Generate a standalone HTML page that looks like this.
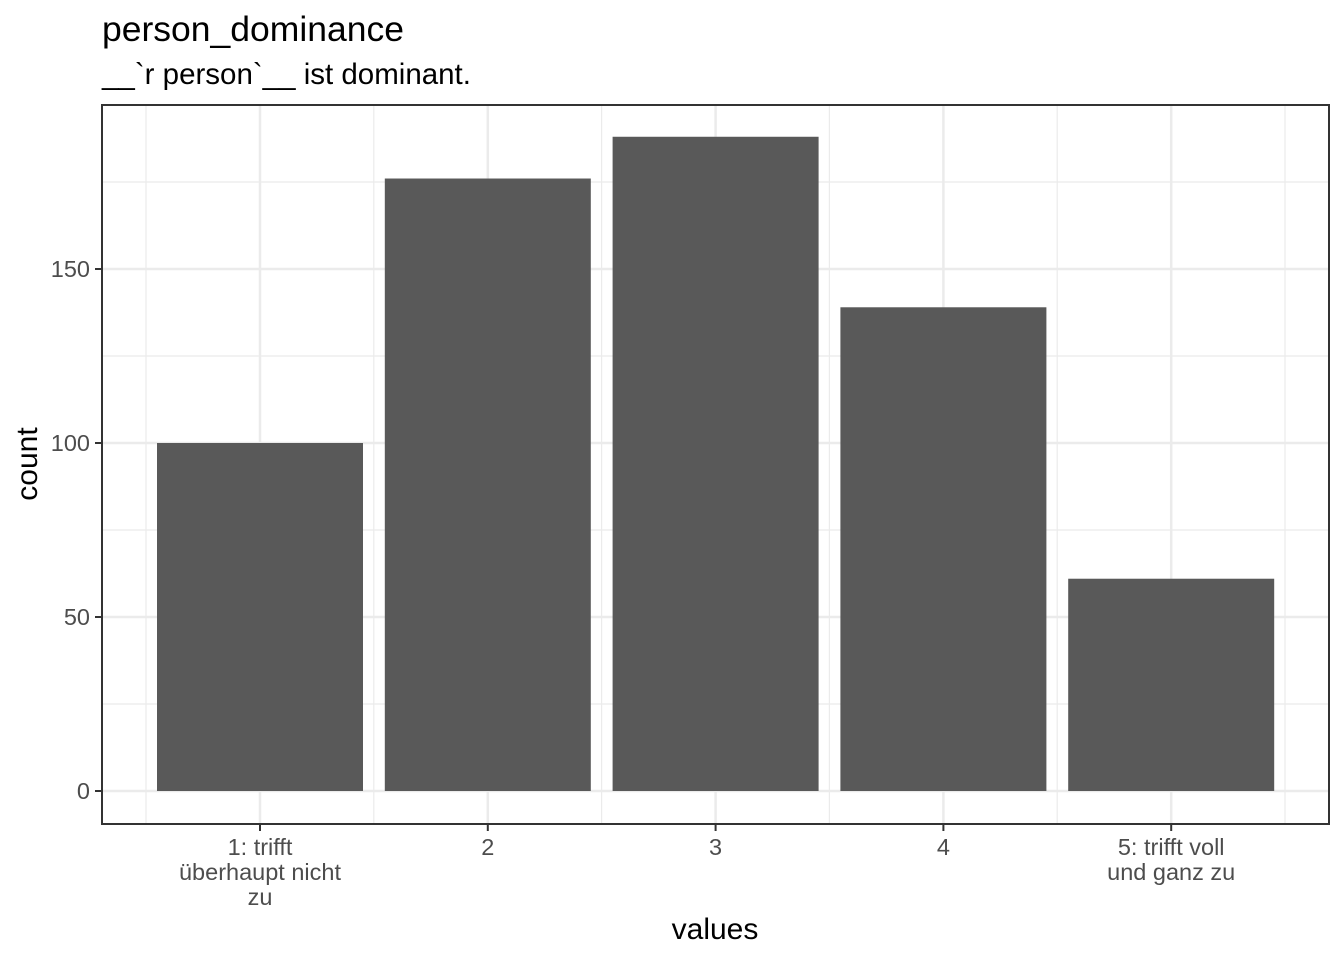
<!DOCTYPE html>
<html><head><meta charset="utf-8"><style>
body{margin:0;background:#fff;font-family:"Liberation Sans",sans-serif;}
</style></head><body>
<svg id="chart" width="1344" height="960" xmlns="http://www.w3.org/2000/svg">
<text x="102" y="41" font-size="35.5" fill="#000">person_dominance</text>
<text x="102" y="84" font-size="29.5" fill="#000">__`r person`__ ist dominant.</text>
<g id="grid"></g><g id="bars"></g><g id="axes"></g>
<text x="715" y="939" font-size="30" text-anchor="middle">values</text>
<text transform="translate(37,464) rotate(-90)" font-size="30" text-anchor="middle">count</text>
</svg>
<script>
const categories=[["1: trifft","überhaupt nicht","zu"],["2"],["3"],["4"],["5: trifft voll","und ganz zu"]];
const counts=[100,176,188,139,61];
const yTicks=[0,50,100,150];
const NS="http://www.w3.org/2000/svg";
const L=102,R=1329,T=105,B=824;
const y0=791,pxPer=522/150;
const y=v=>y0-v*pxPer;
const x=i=>260+i*227.8;
const bw=206;
function mk(tag,attrs,parent){const e=document.createElementNS(NS,tag);for(const k in attrs)e.setAttribute(k,attrs[k]);document.getElementById(parent).appendChild(e);return e;}
for(let v=25;y(v)>T;v+=50){const g=mk('line',{x1:L,x2:R,y1:y(v),y2:y(v),stroke:'#ebebeb','stroke-width':1.2},'grid');

}
yTicks.forEach(v=>{const g=mk('line',{x1:L,x2:R,y1:y(v),y2:y(v),stroke:'#ebebeb','stroke-width':2.5},'grid');

});
for(let i=0;i<=categories.length;i++){const g=mk('line',{x1:x(i)-114,x2:x(i)-114,y1:T,y2:B,stroke:'#ebebeb','stroke-width':1.2},'grid');

}
categories.forEach((c,i)=>{const g=mk('line',{x1:x(i),x2:x(i),y1:T,y2:B,stroke:'#ebebeb','stroke-width':2.5},'grid');

});
counts.forEach((v,i)=>{const r=mk('rect',{x:x(i)-bw/2,y:y(v),width:bw,height:y(0)-y(v),fill:'#595959'},'bars');

});
const p=mk('rect',{x:L,y:T,width:R-L,height:B-T,fill:'none',stroke:'#333','stroke-width':2},'axes');


yTicks.forEach(v=>{mk('line',{x1:L-7,x2:L,y1:y(v),y2:y(v),stroke:'#333','stroke-width':2},'axes');
const t=mk('text',{x:L-12,y:y(v)+8,'font-size':23.5,fill:'#4d4d4d','text-anchor':'end'},'axes');t.textContent=v;

});
categories.forEach((c,i)=>{mk('line',{x1:x(i),x2:x(i),y1:B,y2:B+7,stroke:'#333','stroke-width':2},'axes');
c.forEach((s,j)=>{const t=mk('text',{x:x(i),y:855+j*25,'font-size':23.5,fill:'#4d4d4d','text-anchor':'middle'},'axes');t.textContent=s;

});});
</script>
</body></html>
